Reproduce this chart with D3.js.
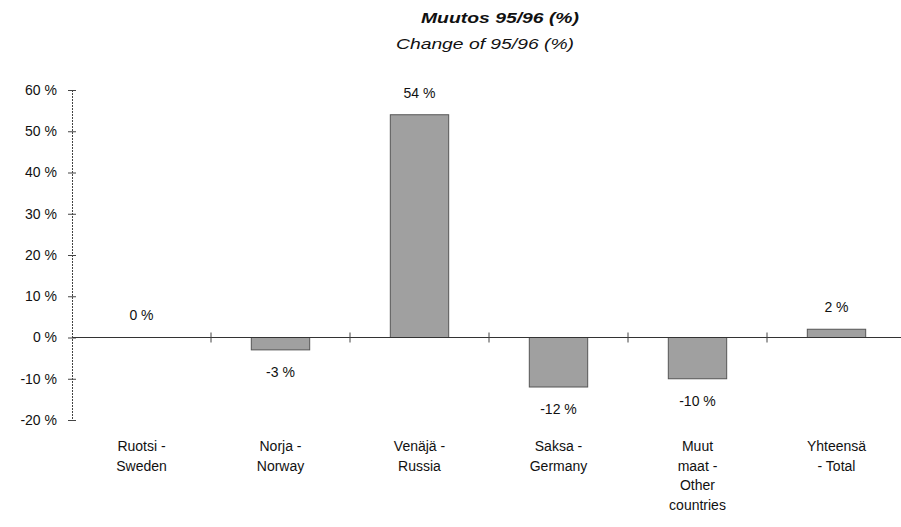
<!DOCTYPE html>
<html><head><meta charset="utf-8">
<script src="https://cdn.jsdelivr.net/npm/d3@7"></script>
<style>
body{margin:0;background:#fff;}
text{font-family:"Liberation Sans",Arial,Helvetica,sans-serif;fill:#111;}
</style></head>
<body>
<svg id="chart" width="901" height="527"></svg>
<script>
const categories = ["Ruotsi - Sweden","Norja - Norway","Venäjä - Russia","Saksa - Germany","Muut maat - Other countries","Yhteensä - Total"];
const categoryLines = [["Ruotsi -","Sweden"],["Norja -","Norway"],["Venäjä -","Russia"],["Saksa -","Germany"],["Muut","maat -","Other","countries"],["Yhteensä","- Total"]];
const values = [0, -3, 54, -12, -10, 2];
const valueLabels = ["0 %","-3 %","54 %","-12 %","-10 %","2 %"];
const yTicks = [-20,-10,0,10,20,30,40,50,60];
const titleLines = ["Muutos 95/96 (%)","Change of 95/96 (%)"];

const svg = d3.select("#chart");
const x = d3.scaleBand().domain(categories).range([72, 906]).paddingInner(0.58).paddingOuter(0.29);
const y = d3.scaleLinear().domain([-20, 60]).range([420, 90]);

// title
svg.append("text").attr("x", 500).attr("y", 23).attr("text-anchor","middle")
  .attr("textLength",158).attr("lengthAdjust","spacingAndGlyphs")
  .style("font-size","15px").style("font-style","italic").style("font-weight","bold").text(titleLines[0]);
svg.append("text").attr("x", 485).attr("y", 49).attr("text-anchor","middle")
  .attr("textLength",178).attr("lengthAdjust","spacingAndGlyphs")
  .style("font-size","15px").style("font-style","italic").text(titleLines[1]);

// bars
svg.append("g").selectAll("rect").data(values).join("rect")
  .attr("x", (d,i) => x(categories[i]))
  .attr("width", x.bandwidth())
  .attr("y", d => y(Math.max(0,d)))
  .attr("height", d => Math.abs(y(d) - y(0)))
  .attr("fill", "#a0a0a0")
  .attr("stroke", "#555")
  .attr("stroke-width", 1);

// y axis
const yAxis = d3.axisLeft(y).tickValues(yTicks).tickFormat(d => d + " %").tickSize(4).tickPadding(11);
const gy = svg.append("g").attr("transform","translate(72,0)").call(yAxis);
gy.select(".domain").attr("stroke","#444").attr("stroke-dasharray","2,1");
gy.selectAll(".tick line").attr("stroke","#444").attr("x1",4).attr("x2",-4);
gy.selectAll(".tick text").style("font-size","14px").attr("fill","#111")
  .style("font-family",'"Liberation Sans",Arial,sans-serif');

// x axis line at zero with category dividers
const gx = svg.append("g").attr("transform",`translate(0,${y(0)})`);
gx.append("line").attr("x1",72).attr("x2",901).attr("y1",0).attr("y2",0).attr("stroke","#333").attr("stroke-width",1.2);
const dividers = categories.slice(1).map(c => x(c) - x.step()*x.paddingInner()/2);
gx.selectAll("line.div").data(dividers).join("line").attr("class","div")
  .attr("x1",d=>d).attr("x2",d=>d).attr("y1",-5).attr("y2",5).attr("stroke","#444");

// value labels
svg.append("g").selectAll("text").data(values).join("text")
  .attr("x",(d,i)=> x(categories[i]) + x.bandwidth()/2)
  .attr("y", d => d >= 0 ? y(d) - 22 : y(d) + 22)
  .attr("dy","0.35em").attr("text-anchor","middle").style("font-size","14px")
  .text((d,i)=> valueLabels[i]);

// category labels
const gc = svg.append("g");
categoryLines.forEach((lines,i) => {
  const cx = x(categories[i]) + x.bandwidth()/2;
  const t = gc.append("text").attr("x", cx).attr("y", 451)
    .attr("text-anchor","middle").style("font-size","14px");
  lines.forEach((l,j) => t.append("tspan").attr("x", cx).attr("dy", j===0?0:19.5).text(l));
});
</script>
</body></html>
